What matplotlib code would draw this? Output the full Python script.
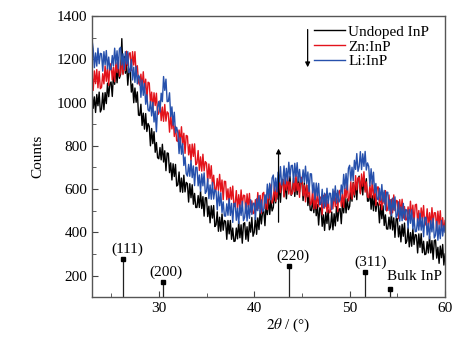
import numpy as np
import matplotlib
matplotlib.use("Agg")
import matplotlib.pyplot as plt

plt.rcParams['font.family'] = ['Liberation Serif', 'DejaVu Serif']
plt.rcParams['mathtext.fontset'] = 'stix'

# 2theta sampling (degrees), step 0.125 from 23 to 60 (one row per degree)
two_theta = np.arange(23.0, 60.0001, 0.125)

undoped = [
    1055, 973, 1026, 954, 1037, 985, 1048, 956,
    970, 1044, 967, 1046, 995, 1089, 1027, 1086,
    1095, 1028, 1131, 1084, 1163, 1091, 1159, 1112,
    1130, 1295, 1135, 1213, 1135, 1180, 1080, 1155,
    1145, 1048, 1086, 999, 1067, 1001, 1049, 942,
    940, 992, 894, 951, 877, 949, 866, 903,
    890, 800, 880, 810, 865, 770, 815, 745,
    740, 792, 735, 807, 725, 777, 685, 767,
    765, 676, 721, 642, 717, 658, 714, 614,
    620, 679, 587, 651, 585, 664, 587, 631,
    625, 540, 625, 560, 620, 530, 580, 515,
    515, 570, 515, 590, 510, 565, 475, 560,
    560, 473, 521, 444, 523, 466, 524, 427,
    435, 495, 405, 470, 405, 485, 410, 455,
    450, 368, 455, 393, 455, 368, 420, 358,
    360, 420, 370, 450, 375, 435, 350, 440,
    445, 368, 426, 359, 447, 401, 469, 382,
    400, 471, 391, 467, 413, 503, 439, 494,
    500, 431, 531, 482, 557, 483, 549, 499,
    515, 581, 536, 622, 553, 618, 539, 634,
    645, 567, 623, 555, 641, 593, 659, 571,
    587, 651, 566, 636, 575, 658, 587, 636,
    635, 547, 629, 561, 618, 524, 571, 503,
    500, 551, 491, 562, 477, 528, 434, 514,
    510, 428, 481, 409, 493, 441, 504, 412,
    425, 494, 412, 486, 430, 519, 452, 506,
    510, 440, 540, 490, 565, 490, 555, 505,
    520, 587, 544, 631, 563, 629, 551, 648,
    660, 583, 640, 573, 660, 596, 648, 544,
    545, 601, 507, 569, 500, 576, 497, 539,
    530, 444, 529, 463, 523, 432, 481, 416,
    415, 470, 416, 491, 411, 467, 377, 463,
    463, 379, 430, 356, 437, 382, 443, 349,
    360, 421, 333, 399, 336, 417, 344, 390,
    387, 305, 393, 331, 394, 306, 359, 297,
    300, 357, 305, 382, 305, 362, 275, 362,
    365, 281, 331, 257, 337, 283, 344, 249,
    300,
]

zn_inp = [
    1135, 1056, 1146, 1087, 1152, 1068, 1144, 1064,
    1070, 1133, 1086, 1169, 1098, 1161, 1079, 1172,
    1180, 1104, 1163, 1096, 1185, 1139, 1208, 1121,
    1140, 1209, 1129, 1203, 1148, 1237, 1171, 1226,
    1230, 1148, 1235, 1173, 1235, 1133, 1170, 1093,
    1080, 1131, 1071, 1142, 1058, 1108, 1014, 1094,
    1090, 1001, 1048, 969, 1045, 986, 1043, 944,
    950, 1008, 916, 979, 913, 991, 914, 957,
    950, 863, 945, 878, 935, 843, 890, 823,
    820, 873, 815, 888, 805, 858, 765, 848,
    845, 758, 806, 729, 808, 751, 809, 712,
    720, 778, 686, 749, 683, 761, 684, 727,
    720, 633, 716, 649, 708, 616, 664, 597,
    595, 649, 594, 668, 588, 642, 551, 636,
    635, 551, 601, 527, 608, 553, 614, 519,
    530, 593, 506, 574, 513, 596, 524, 572,
    570, 489, 578, 517, 580, 494, 546, 486,
    490, 551, 503, 584, 510, 571, 488, 579,
    585, 510, 570, 505, 595, 550, 620, 535,
    555, 624, 543, 617, 561, 650, 584, 638,
    642, 563, 654, 595, 661, 577, 633, 574,
    580, 639, 588, 667, 593, 627, 562, 651,
    655, 569, 618, 541, 620, 564, 623, 526,
    535, 596, 508, 574, 510, 591, 518, 564,
    560, 481, 571, 512, 576, 493, 549, 490,
    495, 557, 509, 591, 518, 579, 496, 588,
    595, 520, 580, 515, 605, 560, 630, 545,
    565, 634, 554, 628, 573, 662, 596, 651,
    655, 578, 670, 613, 680, 586, 633, 564,
    560, 616, 561, 637, 558, 613, 524, 609,
    610, 526, 578, 504, 585, 531, 593, 499,
    510, 573, 485, 553, 490, 573, 500, 548,
    545, 463, 551, 489, 553, 466, 519, 457,
    460, 518, 466, 544, 468, 526, 439, 527,
    530, 448, 501, 429, 513, 461, 524, 432,
    445, 509, 423, 491, 430, 514, 443, 491,
    490, 409, 498, 436, 500, 414, 468, 406,
    455,
]

li_inp = [
    1290, 1248, 1161, 1229, 1168, 1251, 1179, 1227,
    1225, 1145, 1235, 1175, 1240, 1155, 1210, 1150,
    1155, 1217, 1169, 1251, 1178, 1239, 1156, 1248,
    1255, 1173, 1225, 1153, 1235, 1178, 1235, 1138,
    1145, 1199, 1104, 1163, 1093, 1167, 1086, 1126,
    1115, 1024, 1104, 1033, 1088, 992, 1036, 966,
    960, 1004, 938, 1001, 910, 960, 865, 977,
    1005, 956, 1043, 1004, 1120, 1056, 1108, 1004,
    1005, 1045, 935, 980, 895, 955, 860, 885,
    860, 764, 838, 761, 810, 709, 748, 671,
    660, 714, 659, 733, 653, 707, 616, 701,
    700, 615, 665, 590, 670, 615, 675, 580,
    590, 648, 556, 619, 553, 631, 554, 597,
    590, 504, 589, 523, 583, 492, 541, 476,
    475, 532, 479, 556, 478, 534, 446, 533,
    535, 456, 512, 441, 527, 478, 544, 454,
    470, 536, 453, 524, 465, 551, 483, 534,
    535, 460, 555, 500, 570, 490, 550, 495,
    505, 574, 534, 623, 558, 627, 551, 651,
    665, 591, 651, 587, 678, 633, 704, 619,
    640, 707, 624, 696, 638, 724, 656, 708,
    710, 630, 719, 659, 722, 637, 691, 631,
    635, 689, 633, 706, 625, 679, 588, 671,
    670, 582, 629, 551, 628, 569, 626, 528,
    535, 599, 513, 581, 520, 604, 533, 581,
    580, 505, 600, 545, 615, 535, 595, 540,
    550, 619, 579, 668, 603, 672, 596, 696,
    710, 638, 701, 639, 733, 691, 764, 682,
    705, 773, 690, 763, 705, 774, 688, 721,
    705, 614, 694, 623, 678, 582, 626, 556,
    550, 604, 548, 621, 540, 594, 503, 586,
    585, 501, 551, 477, 558, 503, 564, 469,
    480, 541, 452, 518, 454, 534, 460, 506,
    502, 419, 505, 442, 504, 415, 467, 403,
    405, 463, 410, 488, 410, 468, 380, 468,
    470, 388, 442, 370, 454, 402, 465, 374,
    387, 451, 364, 433, 371, 455, 383, 432,
    400,
]

series_labels = ['Undoped InP', 'Zn:InP', 'Li:InP']
series_colors = ['#000000', '#e3131b', '#2650ac']

# Bulk InP reference reflections
ref_pos = [26.3, 30.4, 43.6, 51.6]
ref_int = [276, 172, 245, 218]
ref_hkl = ['(111)', '(200)', '(220)', '(311)']
bulk_marker_pos = 54.2
bulk_marker_int = 140

fig = plt.figure(figsize=(4.67, 3.39), dpi=100)
ax = fig.add_axes([0.197, 0.123, 0.756, 0.830])

for y, lab, col in zip([undoped, zn_inp, li_inp], series_labels, series_colors):
    ax.plot(two_theta, y, color=col, lw=1.0, label=lab)

ax.vlines(ref_pos, 100, ref_int, color='#222222', lw=0.9)
ax.plot(ref_pos, ref_int, 's', color='black', ms=3.5)
label_dx = [0.4, 0.35, 0.5, 0.65]
for p, h, t, dx in zip(ref_pos, ref_int, ref_hkl, label_dx):
    ax.text(p + dx, h + 14, t, ha='center', va='bottom', fontsize=11)
ax.vlines([bulk_marker_pos], 100, bulk_marker_int, color='#222222', lw=0.9)
ax.plot([bulk_marker_pos], [bulk_marker_int], 's', color='black', ms=3.5)
ax.text(bulk_marker_pos - 0.3, bulk_marker_int + 28, 'Bulk InP', ha='left', va='bottom', fontsize=11)

# arrows
ax.annotate('', xy=(45.6, 1150), xytext=(45.6, 1350),
            arrowprops=dict(arrowstyle='-|>', color='black', lw=0.9, mutation_scale=7))
ax.annotate('', xy=(42.55, 800), xytext=(42.55, 434),
            arrowprops=dict(arrowstyle='-|>', color='black', lw=0.9, mutation_scale=7))

ax.set_xlim(23, 60)
ax.set_ylim(100, 1400)
ax.set_xticks([30, 40, 50, 60])
ax.set_xticks([25, 35, 45, 55], minor=True)
ax.set_yticks([200, 400, 600, 800, 1000, 1200, 1400])
ax.set_yticks([300, 500, 700, 900, 1100, 1300], minor=True)
ax.tick_params(which='both', direction='in', labelsize=11, color='#444444')
ax.tick_params(which='major', length=4)
ax.tick_params(which='minor', length=3)
for s in ax.spines.values():
    s.set_color('#555555')
    s.set_linewidth(1.0)

ax.set_ylabel('Counts', fontsize=11)
ax.set_xlabel(r'$2\theta$ / (°)', fontsize=11)
ax.xaxis.set_label_coords(0.555, -0.07)
ax.yaxis.set_label_coords(-0.135, 0.5)

leg = ax.legend(loc='upper left', bbox_to_anchor=(0.63, 0.968), frameon=False,
                fontsize=11, handlelength=2.0, handletextpad=0.2,
                labelspacing=0.08, borderpad=0.0, borderaxespad=0.0)
for h in leg.get_lines():
    h.set_linewidth(1.0)

fig.savefig('out.png', dpi=100)
